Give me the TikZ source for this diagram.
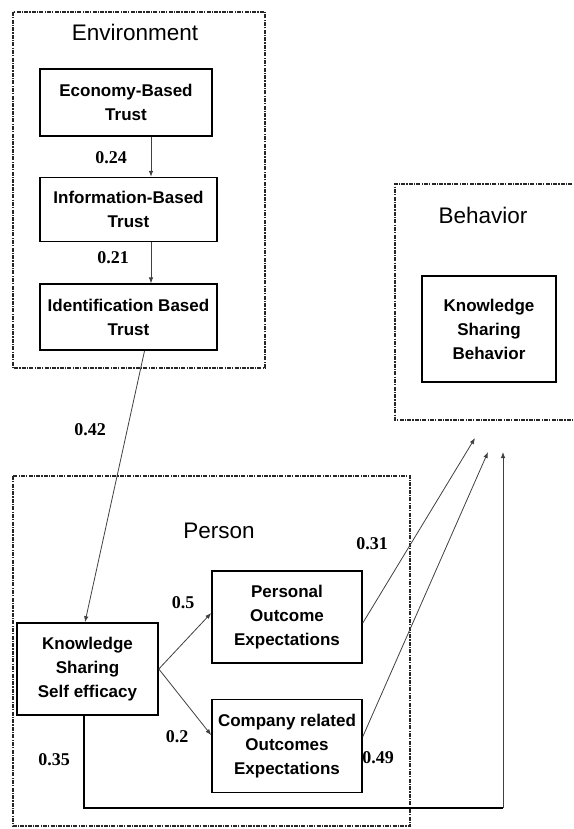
\documentclass[tikz,border=0pt]{standalone}
\usepackage{fontspec}
\setmainfont{Liberation Sans}
\newfontfamily\numfont{Liberation Serif}
\usepackage{tikz}
\usetikzlibrary{arrows.meta,positioning}

\begin{document}
\begin{tikzpicture}[x=1pt, y=-1pt,
  box/.style={draw, line width=1.6pt, align=center, inner sep=0pt, font=\bfseries\fontsize{17}{24}\selectfont},
  frame/.style={draw=black!85, line width=1.8pt, dash pattern=on 4pt off 1.2pt on 1.2pt off 1.2pt},
  title/.style={font=\fontsize{22.5}{26}\selectfont},
  num/.style={font=\numfont\bfseries\fontsize{18}{20}\selectfont},
  arr/.style={draw=black!75, line width=0.8pt, -{Latex[length=6pt,width=4.5pt]}}]
  \useasboundingbox (0,0) rectangle (573,829);
  % the three frames
  \draw[frame] (13,12) rectangle (265,368);
  \draw[frame] (580,184) -- (395,184) -- (395,420) -- (580,420);
  \draw[frame] (13,476) rectangle (410,826);
  \node[title] (envt) at (135,32) {Environment};
  \node[title] (beht) at (483,215) {Behavior};
  \node[title] (pert) at (219,531) {Person};
  % boxes
  \node[box, minimum width=172pt, minimum height=67pt] (econ) at (126,102.5) {Economy-Based\\Trust};
  \node[box, minimum width=177pt, minimum height=64pt, below=40pt of econ.south, anchor=north, xshift=2.5pt] (info) {Information-Based\\Trust};
  \node[box, minimum width=177pt, minimum height=66pt, below=41pt of info] (ident) {Identification Based\\Trust};
  \node[box, minimum width=141pt, minimum height=92pt] (ksse) at (87.5,669) {Knowledge\\Sharing\\Self efficacy};
  \node[box, minimum width=150pt, minimum height=92pt] (poe) at (287,617) {Personal\\Outcome\\Expectations};
  \node[box, minimum width=150pt, minimum height=93pt, below=35pt of poe] (comp) {Company related\\Outcomes\\Expectations};
  \node[box, minimum width=134pt, minimum height=106pt] (ksb) at (489,329) {Knowledge\\Sharing\\Behavior};
  % free arrow ends
  \coordinate (t1) at (475,438);
  \coordinate (t2) at (488,452);
  \coordinate (t3) at (503,452);
  \coordinate (c1) at (503,808);
  % connectors
  \draw[arr] ([xshift=22.5pt]info.north |- econ.south) -- ([xshift=22.5pt]info.north);
  \draw[arr] ([xshift=22.5pt]ident.north |- info.south) -- ([xshift=22.5pt]ident.north);
  \draw[arr] ([xshift=16pt]ident.south) -- ([xshift=-2.5pt]ksse.north);
  \draw[arr] (ksse.east) -- ([yshift=4pt]poe.west);
  \draw[arr] (ksse.east) -- ([yshift=11pt]comp.west);
  \draw[arr] ([yshift=-6pt]poe.east) -- (t1);
  \draw[arr] ([yshift=9.5pt]comp.east) -- (t2);
  \draw[line width=1.6pt] ([xshift=-3.5pt]ksse.south) |- (c1);
  \draw[arr] (c1) -- (t3);
  % path weights
  \node[num] (w1) at (111,158) {0.24};
  \node[num] (w2) at (113,258) {0.21};
  \node[num] (w3) at (90,430) {0.42};
  \node[num] (w4) at (372,544) {0.31};
  \node[num] (w5) at (183,603) {0.5};
  \node[num] (w6) at (177,737) {0.2};
  \node[num] (w7) at (54,760) {0.35};
  \node[num] (w8) at (378,758) {0.49};
\end{tikzpicture}
\end{document}
